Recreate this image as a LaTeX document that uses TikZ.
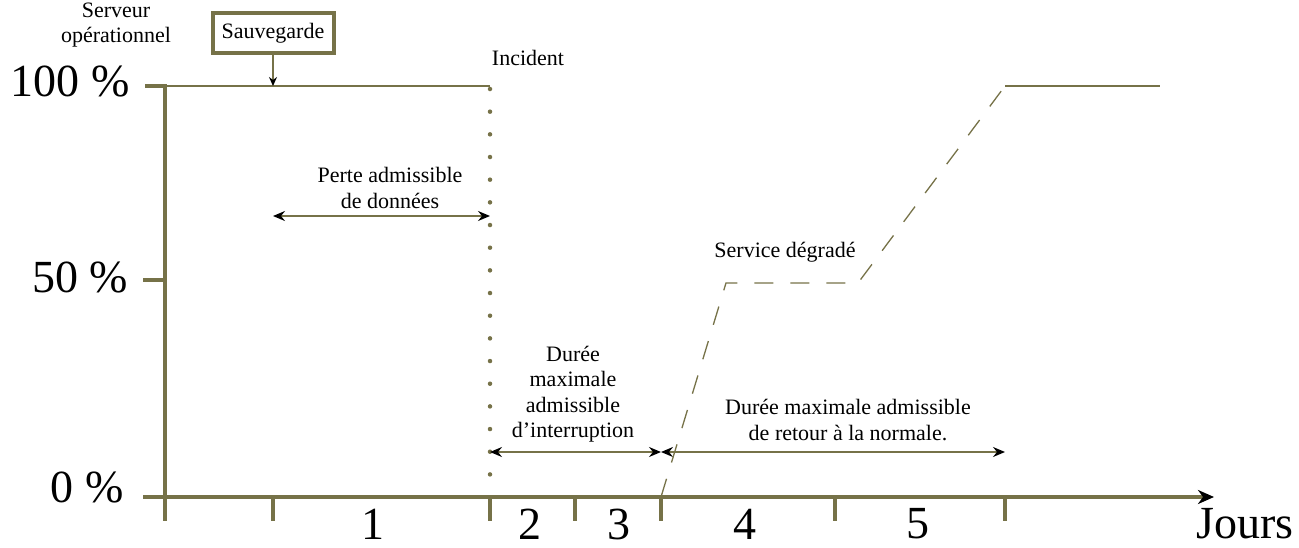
\documentclass[tikz,border=0pt]{standalone}
\usepackage{fontspec}
\setmainfont{Liberation Serif}
\newfontfamily\tnrfont{Liberation Serif}
\usetikzlibrary{arrows.meta}
\definecolor{axiscol}{RGB}{118,114,72}
\begin{document}
\begin{tikzpicture}[x=1pt,y=-1pt,
  axis/.style={draw=axiscol,line width=4.5pt},
  thinline/.style={draw=axiscol,line width=1.6pt},
  smalltext/.style={font=\tnrfont\fontsize{22}{25.5}\selectfont, align=center, inner sep=0pt},
  bigtext/.style={font=\tnrfont\fontsize{46}{50}\selectfont, inner sep=0pt},
  tipb/.tip={Stealth[black,length=12pt,width=10pt,inset=4pt]},
  darr/.style={thinline,tipb-tipb}]
\useasboundingbox (0,0) rectangle (1299,547);

% axes
\coordinate (ytop) at (165,84);
\coordinate (ybot) at (165,521);
\coordinate (xl) at (143,497);
\coordinate (xr) at (1214,497);
\draw[axis] (ytop) -- (ybot);
\draw[axis,-{Stealth[black,length=16pt,width=14pt,inset=5pt]}] (xl) -- (xr);
\coordinate (t100a) at (145,86); \coordinate (t100b) at (167,86);
\coordinate (t50a) at (143,280); \coordinate (t50b) at (167,280);
\draw[axis] (t100a) -- (t100b);
\draw[axis] (t50a) -- (t50b);
\foreach \x/\n in {273/a,490/b,575/c,661/d,835/e,1005/f}{
  \coordinate (tk\n) at (\x,497);
  \coordinate (tb\n) at (\x,521);
  \draw[axis] (tk\n) -- (tb\n);
}

% y labels
\node[bigtext] (p100) at (70,82) {100 \%};
\node[bigtext] (p50) at (80,277) {50 \%};
\node[bigtext] (p0) at (87,487) {0 \%};
\node[smalltext] (serv) at (116,25) {Serveur\\opérationnel};

% x labels
\node[bigtext] (l1) at (373,524) {1};
\node[bigtext] (l2) at (530,524) {2};
\node[bigtext] (l3) at (619,524) {3};
\node[bigtext] (l4) at (745,524) {4};
\node[bigtext] (l5) at (918,524) {5};
\node[bigtext] (jours) at (1245,524) {Jours};

% 100% level line
\coordinate (s0) at (165,86);
\coordinate (sinc) at (490,86);
\coordinate (sbk) at (273,86);
\draw[thinline] (s0) -- (sinc);

% Sauvegarde
\node[smalltext, draw=axiscol, line width=4pt, minimum width=121pt, minimum height=40pt] (sauv) at (273,33) {Sauvegarde};
\draw[thinline,-{Stealth[black,length=9pt,width=8pt,inset=3pt]}] (sauv.south) -- (sbk);

% incident
\node[smalltext] (inc) at (528,58) {Incident};
\coordinate (dtop) at (490,89);
\coordinate (dbot) at (490,497);
\draw[draw=axiscol,line width=4.5pt,line cap=round,dash pattern=on 0pt off 22.67pt] (dtop) -- (dbot);

% perte admissible
\node[smalltext] (perte) at (390,188) {Perte admissible\\de données};
\coordinate (pa) at (273,216);
\coordinate (pb) at (490,216);
\draw[darr] (pa) -- (pb);

% interruption
\node[smalltext] (dmai) at (573,394) {Durée\\maximale\\admissible\\d’interruption};
\coordinate (ia) at (490,452);
\coordinate (ib) at (661,452);
\coordinate (ic) at (1005,452);
\draw[darr] (ia) -- (ib);
\draw[darr] (ib) -- (ic);
\node[smalltext] (retour) at (848,420) {Durée maximale admissible\\de retour à la normale.};

% recovery curve
\coordinate (r0) at (661,497);
\coordinate (r1) at (726,283);
\coordinate (r2) at (858,283);
\coordinate (r3) at (1005,86);
\coordinate (r4) at (1160,86);
\draw[thinline, line width=1.3pt, dash pattern=on 19pt off 17pt] (r0) -- (r1) -- (r2) -- (r3);
\draw[thinline] (r3) -- (r4);
\node[smalltext] (degr) at (785,252) {Service dégradé};
\end{tikzpicture}
\end{document}
